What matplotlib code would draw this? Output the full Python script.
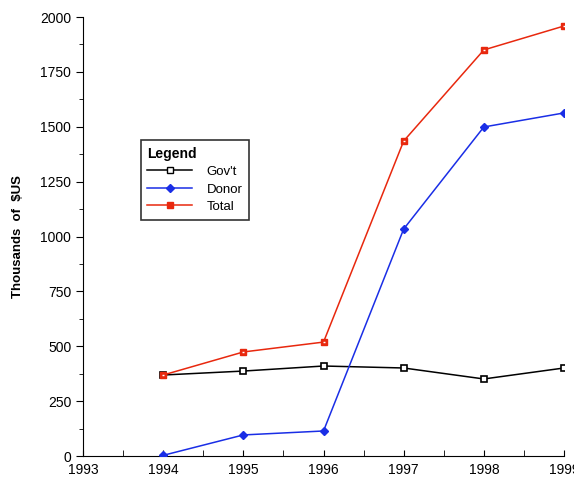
import matplotlib
matplotlib.use("Agg")
import matplotlib.pyplot as plt
from matplotlib.ticker import MultipleLocator
from matplotlib.lines import Line2D

years = [1994, 1995, 1996, 1997, 1998, 1999]
govt = [369, 387, 410, 401, 351, 401]
donor = [3, 96, 114, 1034, 1499, 1563]
total = [369, 474, 519, 1435, 1850, 1959]
labels = ["Gov't", "Donor", "Total"]

plt.rcParams['font.family'] = ['Liberation Sans', 'DejaVu Sans']

fig = plt.figure(figsize=(5.74, 4.79), dpi=100)
ax = fig.add_axes([0.1446, 0.048, 0.838, 0.9165])

ax.plot(years, govt, color='black', lw=1.1, marker='s', ms=5,
        mfc='white', mec='black', mew=1.2, zorder=3)
ax.plot(years, donor, color='#1a2ee6', lw=1.1, marker='D', ms=4.5,
        mfc='#1a2ee6', mec='#1a2ee6', zorder=3)
ax.plot(years, total, color='#e8280e', lw=1.1, marker='s', ms=5,
        mfc='#e8280e', mec='#e8280e', zorder=3)
ax.plot(years, total, ls='none', marker='_', ms=2, mec='white', mew=1, zorder=4)

ax.set_xlim(1993, 1999)
ax.set_ylim(0, 2000)
ax.xaxis.set_major_locator(MultipleLocator(1))
ax.xaxis.set_minor_locator(MultipleLocator(0.5))
ax.yaxis.set_major_locator(MultipleLocator(250))
ax.yaxis.set_minor_locator(MultipleLocator(125))
ax.tick_params(axis='x', which='both', direction='in', length=4, labelsize=10, pad=5)
ax.tick_params(axis='y', which='major', direction='out', length=5, labelsize=10)
ax.tick_params(axis='y', which='minor', direction='out', length=3)
ax.xaxis.set_major_formatter(matplotlib.ticker.FuncFormatter(lambda v, p: f"{int(round(v))}"))

for s in ['top', 'right']:
    ax.spines[s].set_visible(False)

ax.set_ylabel("Thousands  of  $US", fontweight='bold', fontsize=9.5)
ax.yaxis.set_label_coords(-0.122, 0.5)

handles = [
    Line2D([], [], color='black', lw=1.1, marker='s', ms=4.5, mfc='white', mec='black'),
    Line2D([], [], color='#1a2ee6', lw=1.1, marker='D', ms=4, mfc='#1a2ee6', mec='#1a2ee6'),
    Line2D([], [], color='#e8280e', lw=1.1, marker='s', ms=4.5, mfc='#e8280e', mec='#e8280e'),
]
leg = ax.legend(handles, labels, title="Legend", loc='upper left',
                bbox_to_anchor=(0.12, 0.72), frameon=True, fancybox=False,
                edgecolor='black', fontsize=9.5, handlelength=3.4,
                borderpad=0.5, labelspacing=0.4, handletextpad=1.1, alignment='left',
                borderaxespad=0)
leg.get_title().set_fontweight('bold')
leg.get_title().set_fontsize(10)
leg.get_frame().set_linewidth(1.2)

fig.savefig("out.png", dpi=100)
